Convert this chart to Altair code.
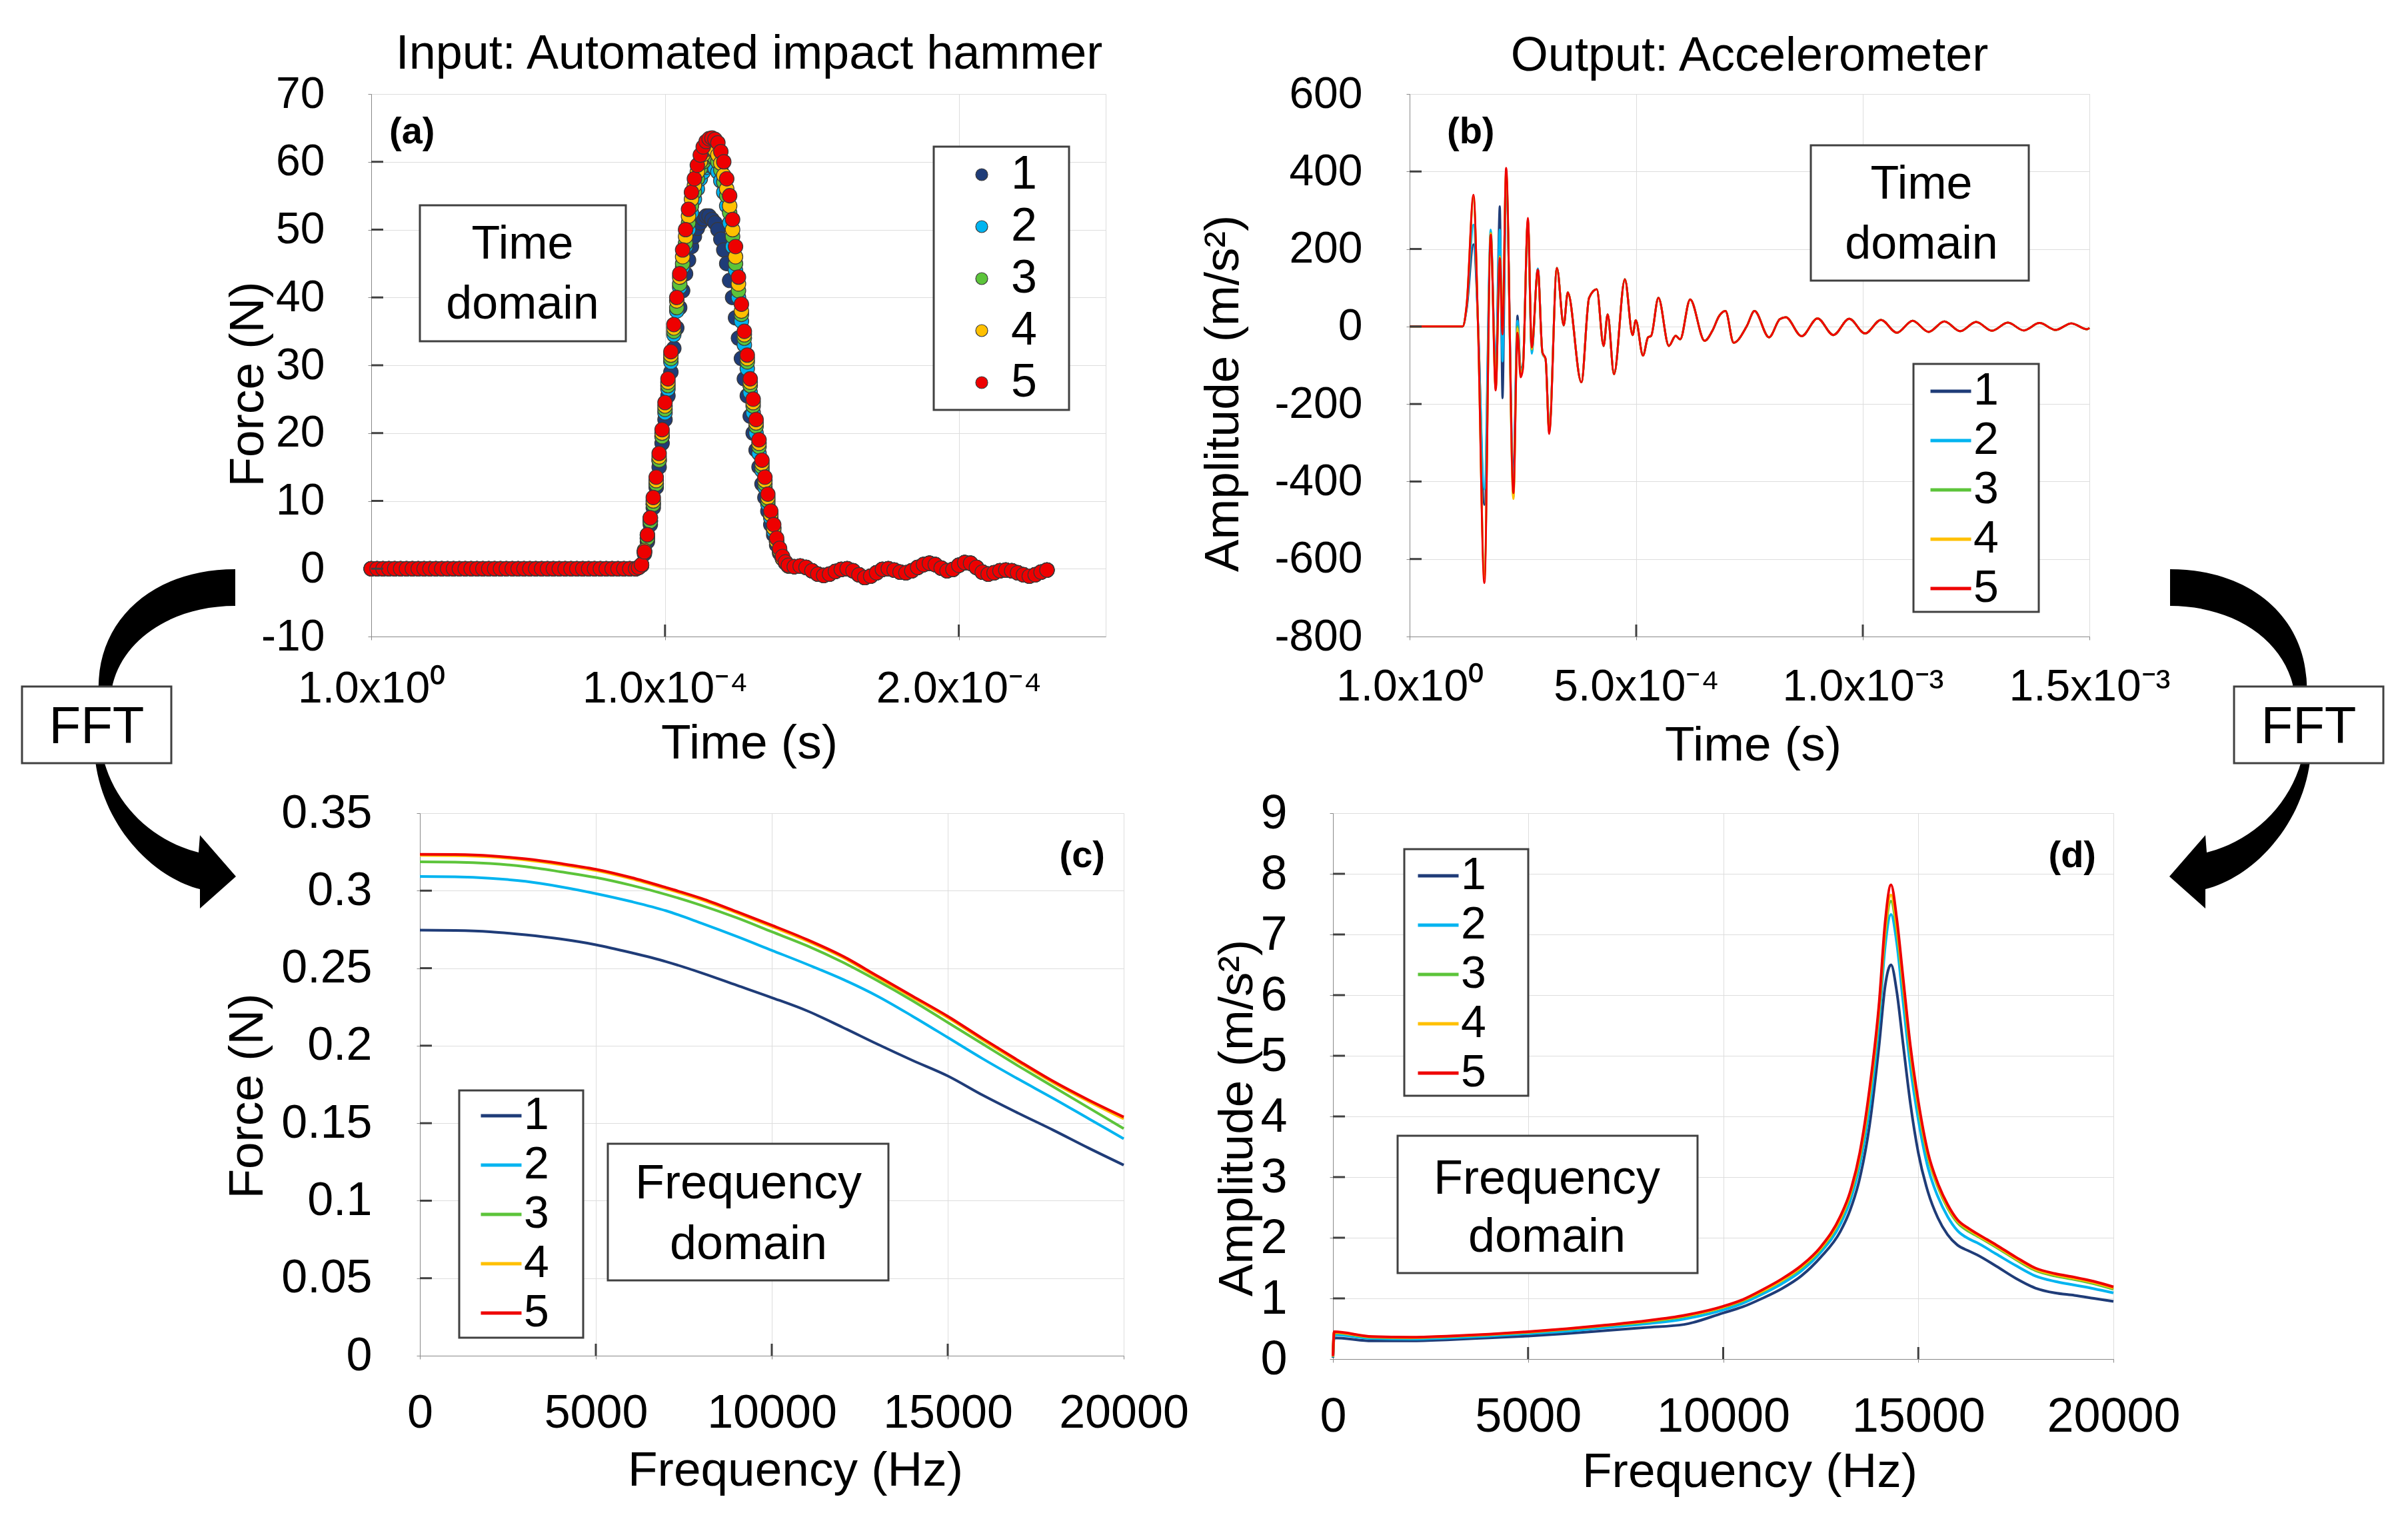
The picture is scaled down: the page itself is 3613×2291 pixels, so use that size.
import json
import altair as alt
import pandas as pd

FONT = "Liberation Sans, Arial, sans-serif"
RUNS = ["1", "2", "3", "4", "5"]
COLORS = ["#1f3c78", "#00b4f0", "#5cc43a", "#ffc000", "#ee0000"]
FRAME = "#404040"

# ---------------- (a) impact hammer force, time domain ----------------
A_T_US = list(range(0, 90, 2)) + list(range(90, 143)) + list(range(144, 232, 2))  # µs
A_HEAD = [0, 0, 0, 0, 0, 0, 0, 0, 0, 0, 0, 0, 0, 0, 0, 0, 0, 0, 0, 0, 0, 0, 0,
          0, 0, 0, 0, 0, 0, 0, 0, 0, 0, 0, 0, 0, 0, 0, 0, 0, 0, 0, 0, 0, 0]
A_PULSE = {
    "1": [0, 0.2, 0.5, 2.2, 4, 6.5, 9, 12, 15, 18.5, 22,
          25.5, 29, 32.5, 35.5, 38.5, 41, 43.5, 45.5, 47.5,
          49, 50.2, 51, 51.6, 52, 52, 51.5, 51, 50, 48.6,
          47, 45, 42.5, 40, 37, 34, 31, 28, 25.5, 22.5,
          20, 17.5, 15, 12.5, 10.5, 8.5, 6.5, 5, 3.5, 2.3,
          1.5, 0.9, 0.5],
    "2": [0, 0.2, 0.5, 2.5, 4.5, 7, 9.5, 12.5, 16, 19.5, 23,
          26.5, 30.5, 34.5, 38, 41.5, 44.5, 47.5, 50, 52.5,
          54.5, 56, 57.5, 58.5, 59.2, 59.5, 59.4, 59.1, 58.5, 57.2,
          55.5, 53.5, 51, 47.5, 44, 40, 36.5, 33, 29.5, 26,
          23, 20, 17, 14.5, 12, 9.5, 7.5, 5.5, 4, 2.6,
          1.5, 0.9, 0.4],
    "3": [0, 0.2, 0.5, 2.5, 4.5, 7, 9.5, 12.5, 16, 19.5, 23.5,
          27, 31, 35, 38.5, 42, 45, 48, 51, 53.5,
          55.5, 57.5, 59, 60, 60.7, 61, 60.9, 60.6, 60, 58.8,
          57, 55, 52.5, 49, 45, 41, 37.5, 34, 30.5, 27,
          24, 21, 18, 15, 12.5, 10, 8, 6, 4, 2.6,
          1.5, 0.9, 0.4],
    "4": [0, 0.2, 0.6, 2.7, 5, 7.5, 10, 13, 16.5, 20, 24,
          27.5, 31.5, 35.5, 39.5, 43, 46, 49, 52, 54.5,
          56.5, 58.5, 60, 61.1, 61.8, 62, 62, 61.7, 61, 59.8,
          58, 56, 53.5, 50, 46, 42, 38, 34.5, 31, 27.5,
          24.5, 21.5, 18.5, 15.5, 13, 10.5, 8, 6, 4, 2.7,
          1.5, 0.9, 0.4],
    "5": [0, 0.2, 0.6, 2.5, 5, 7.5, 10.5, 13.5, 17, 20.5, 24.5,
          28, 32, 36, 40, 43.5, 47, 50, 53, 55.5,
          57.5, 59.5, 61, 62.2, 63, 63.4, 63.5, 63.3, 62.8, 61.5,
          60, 57.5, 55, 51.5, 47.5, 43, 39, 35, 31.5, 28,
          25, 22, 19, 16, 13.5, 11, 8.5, 6.5, 4.5, 3,
          1.8, 1, 0.5],
}
A_TAIL = [0.3, 0.4, 0.2, -0.3, -0.8, -1.0, -0.8, -0.4, -0.1, 0.0, -0.3, -0.9, -1.3, -1.1, -0.6,
          -0.1, 0.0, -0.2, -0.5, -0.6, -0.3, 0.2, 0.6, 0.8, 0.6, 0.1, -0.3, -0.1, 0.5, 0.9, 0.8,
          0.2, -0.5, -0.8, -0.6, -0.3, -0.2, -0.3, -0.6, -0.9, -1.1, -0.9, -0.5, -0.2]
A_XTICKS = [0, 100, 200]
A_XLABELS = ["1.0x10\u2070", "1.0x10\u207b\u2074", "2.0x10\u207b\u2074"]
A_YTICKS = [-10, 0, 10, 20, 30, 40, 50, 60, 70]

# ---------------- (b) accelerometer, time domain ----------------
B_T_EARLY = [0, 117, 126, 141, 151, 165, 179, 190, 199, 205, 213, 229, 238, 245, 250, 261,
             269.5, 283, 293, 300, 308]
B_EARLY = {
    "1": [0, 0, 45, 212, 10, -460, 225, -120, 310, -185, 370, -380, 28, -110, -98, 268, -62, 148,
          -68, -84, -265],
    "2": [0, 0, 50, 263, 5, -420, 250, -130, 250, -90, 380, -400, 15, -118, -100, 270, -70, 150,
          -70, -86, -268],
    "3": [0, 0, 55, 330, 0, -640, 242, -158, 182, 5, 395, -440, 0, -122, -102, 272, -60, 146,
          -66, -84, -270],
    "4": [0, 0, 57, 335, 0, -650, 240, -160, 180, -10, 400, -445, -5, -125, -105, 275, -58, 145,
          -68, -85, -272],
    "5": [0, 0, 57, 340, 0, -662, 237, -165, 177, -20, 409, -430, -16, -131, -110, 280, -54, 147,
          -66, -83, -277],
}
B_T_LATE = [325, 340, 349, 379, 396, 413, 428, 437, 451, 475, 492, 499, 515, 526, 533, 549, 572,
            587, 597, 619, 651, 668, 683, 697, 715, 744, 761, 793, 817, 830, 865, 900, 935, 970,
            1005, 1040, 1075, 1110, 1145, 1180, 1215, 1250, 1285, 1320, 1355, 1390, 1425, 1460,
            1495, 1500]
B_LATE = [151, 3, 88, -144, 74, 96, -50, 31, -123, 122, -22, 16, -75, -28, -24, 74, -50, -24,
          -33, 70, -37, -11, 27, 40, -42, 1, 40, -28, 19, 24, -25, 21, -22, 20, -18, 17, -16, 15,
          -14, 13, -12, 12, -11, 10, -10, 9, -9, 8, -7, -4]
B_XTICKS = [0, 500, 1000, 1500]
B_XLABELS = ["1.0x10\u2070", "5.0x10\u207b\u2074", "1.0x10\u207b\u00b3", "1.5x10\u207b\u00b3"]
B_YTICKS = [-800, -600, -400, -200, 0, 200, 400, 600]

# ---------------- (c) force spectrum ----------------
C_F = [0, 1000, 2000, 3000, 4000, 5000, 6000, 7000, 8000, 9000, 10000, 11000, 12000, 13000,
       14000, 15000, 16000, 17000, 18000, 19000, 20000]
C_VAL = {
    "1": [.2745, .2743, .2735, .2715, .2688, .2651, .2600, .2542, .2470, .2390, .2310, .2225,
          .2120, .2010, .1905, .1805, .1680, .1565, .1455, .1340, .1230],
    "2": [.3091, .3089, .3080, .3060, .3025, .2981, .2930, .2870, .2790, .2705, .2615, .2525,
          .2430, .2320, .2190, .2053, .1915, .1785, .1660, .1530, .1400],
    "3": [.3186, .3184, .3175, .3155, .3122, .3085, .3035, .2975, .2905, .2825, .2735, .2645,
          .2540, .2420, .2290, .2150, .2010, .1870, .1735, .1600, .1465],
    "4": [.3228, .3226, .3218, .3198, .3168, .3130, .3077, .3012, .2942, .2857, .2768, .2676,
          .2571, .2441, .2311, .2181, .2036, .1896, .1761, .1641, .1528],
    "5": [.3235, .3233, .3225, .3205, .3175, .3138, .3085, .3020, .2950, .2865, .2777, .2685,
          .2580, .2450, .2320, .2190, .2045, .1905, .1770, .1650, .1540],
}
F_TICKS = [0, 5000, 10000, 15000, 20000]
C_YTICKS = [0, 0.05, 0.1, 0.15, 0.2, 0.25, 0.3, 0.35]

# ---------------- (d) acceleration spectrum ----------------
D_F = [0, 30, 1000, 2000, 3000, 4000, 5000, 6000, 7000, 8000, 9000, 10000, 10500, 11000, 11500,
       12000, 12500, 13000, 13250, 13500, 13750, 14000, 14150, 14300, 14450, 14600, 14800, 15000,
       15250, 15500, 15750, 16000, 16300, 16500, 17000, 17500, 18000, 18500, 19000, 19500, 20000]
D_VAL = {
    "1": [0.02, 0.35, 0.30, 0.30, 0.32, 0.35, 0.38, 0.42, 0.47, 0.52, 0.57, 0.76, 0.86, 1.00,
          1.16, 1.37, 1.68, 2.10, 2.45, 2.98, 3.85, 5.20, 6.15, 6.50, 6.05, 5.25, 4.20, 3.40,
          2.75, 2.33, 2.05, 1.88, 1.78, 1.72, 1.53, 1.33, 1.17, 1.09, 1.05, 1.00, 0.95],
    "2": [0.03, 0.40, 0.34, 0.33, 0.35, 0.38, 0.42, 0.46, 0.52, 0.58, 0.66, 0.81, 0.92, 1.07,
          1.24, 1.45, 1.76, 2.22, 2.60, 3.20, 4.15, 5.60, 6.80, 7.33, 6.85, 5.95, 4.80, 3.95,
          3.15, 2.68, 2.35, 2.12, 1.98, 1.92, 1.73, 1.54, 1.37, 1.28, 1.22, 1.16, 1.09],
    "3": [0.04, 0.43, 0.36, 0.35, 0.37, 0.40, 0.44, 0.49, 0.55, 0.61, 0.70, 0.85, 0.96, 1.11,
          1.29, 1.50, 1.81, 2.30, 2.69, 3.32, 4.33, 5.78, 7.00, 7.55, 7.05, 6.20, 5.02, 4.14,
          3.32, 2.84, 2.49, 2.25, 2.10, 2.03, 1.84, 1.64, 1.46, 1.37, 1.31, 1.24, 1.15],
    "4": [0.04, 0.44, 0.365, 0.355, 0.375, 0.405, 0.445, 0.495, 0.555, 0.62, 0.71, 0.86, 0.97,
          1.12, 1.30, 1.52, 1.83, 2.32, 2.72, 3.36, 4.38, 5.83, 7.08, 7.65, 7.14, 6.27, 5.08,
          4.19, 3.36, 2.87, 2.52, 2.28, 2.13, 2.05, 1.86, 1.66, 1.48, 1.39, 1.33, 1.26, 1.17],
    "5": [0.05, 0.45, 0.37, 0.36, 0.38, 0.41, 0.45, 0.50, 0.56, 0.63, 0.72, 0.87, 0.98, 1.14,
          1.32, 1.54, 1.85, 2.35, 2.75, 3.40, 4.45, 5.90, 7.20, 7.82, 7.25, 6.35, 5.15, 4.25,
          3.40, 2.90, 2.55, 2.30, 2.15, 2.07, 1.88, 1.68, 1.50, 1.41, 1.35, 1.28, 1.19],
}
D_YTICKS = [0, 1, 2, 3, 4, 5, 6, 7, 8, 9]


# ---------------- tables ----------------
def long_table(xs_by_run, vals_by_run, xname):
    rows = []
    for r in RUNS:
        for x, v in zip(xs_by_run[r], vals_by_run[r]):
            rows.append({xname: x, "v": v, "run": r})
    return pd.DataFrame(rows)


df_a = long_table({r: A_T_US for r in RUNS}, {r: A_HEAD + A_PULSE[r] + A_TAIL for r in RUNS}, "t")
df_b = long_table({r: B_T_EARLY + B_T_LATE for r in RUNS}, {r: B_EARLY[r] + B_LATE for r in RUNS}, "t")
df_c = long_table({r: C_F for r in RUNS}, C_VAL, "f")
df_d = long_table({r: D_F for r in RUNS}, D_VAL, "f")

one = pd.DataFrame({"k": [0]})
color_scale = alt.Scale(domain=RUNS, range=COLORS)
MINUS_FIX = "replace(datum.label, '\u2212', '-')"


# ---------------- decoration helpers (pixel positions relative to a panel) ----------------
def box(x1, x2, y1, y2):
    return alt.Chart(one).mark_rect(fill="white", stroke=FRAME, strokeWidth=3).encode(
        x=alt.value(x1), x2=alt.value(x2), y=alt.value(y1), y2=alt.value(y2))


def label(text, x, y, size, align="center", weight="normal"):
    return alt.Chart(one).mark_text(text=text, font=FONT, fontSize=size, fontWeight=weight,
                                    align=align, baseline="alphabetic", color="black").encode(
        x=alt.value(x), y=alt.value(y))


def inner_ticks(xenc, yenc, xfield, xticks, xdom, yticks, ydom, height, ln=18):
    """Short inward tick marks on the bottom and left frame edges (same scales/axes as data)."""
    xs = [v for v in xticks if xdom[0] < v < xdom[1]]
    ys = [v for v in yticks if ydom[0] < v < ydom[1]]
    xt = alt.Chart(pd.DataFrame({xfield: xs})).mark_rule(color=FRAME, strokeWidth=3).encode(
        x=xenc, y=alt.value(height - ln), y2=alt.value(height))
    yt = alt.Chart(pd.DataFrame({"v": ys})).mark_rule(color=FRAME, strokeWidth=3).encode(
        y=yenc, x=alt.value(0), x2=alt.value(ln))
    return [xt, yt]


# curved FFT arrow outline, absolute figure pixels (left arrow)
ARROW = [("M", [(352, 857)]),
         ("C", [(230, 857), (150, 930), (147, 1028)]),
         ("L", [(142, 1145)]),
         ("C", [(155, 1245), (230, 1320), (299, 1337)]),
         ("L", [(299, 1366)]), ("L", [(353, 1318)]), ("L", [(299, 1256)]), ("L", [(297, 1282)]),
         ("C", [(230, 1265), (175, 1215), (155, 1145)]),
         ("L", [(168, 1030)]),
         ("C", [(185, 960), (260, 912), (352, 912)])]
MIRROR = 3607


def arrow_path(ox, oy, mirror=False):
    parts = []
    for cmd, pts in ARROW:
        coords = []
        for (x, y) in pts:
            xx = (MIRROR - x) if mirror else x
            coords.append(f"{xx - ox},{y - oy}")
        parts.append(cmd + " ".join(coords))
    return " ".join(parts) + " Z"


def arrow(ox, oy, mirror=False):
    return alt.Chart(one).mark_point(shape=arrow_path(ox, oy, mirror), size=4, filled=True,
                                     fill="black", opacity=1, strokeWidth=0).encode(
        x=alt.value(0), y=alt.value(0))


def labexpr(ticks, labels):
    return f"{json.dumps(labels, ensure_ascii=False)}[indexof({json.dumps(ticks)}, datum.value)]"


def xaxis(values, size, pad, title, tx, ty, expr=None, fmt=None):
    kw = dict(values=values, labelFontSize=size, labelPadding=pad, labelLimit=0,
              labelOverlap=False, labelBound=False, labelFlush=False, title=title,
              titleFontSize=73, titleFontWeight="normal", titleX=tx, titleY=ty,
              titleBaseline="alphabetic")
    if expr:
        kw["labelExpr"] = expr
    if fmt:
        kw["format"] = fmt
    return alt.Axis(**kw)


def yaxis(values, size, pad, title, tx, ty, fmt=None):
    kw = dict(values=values, labelFontSize=size, labelPadding=pad, labelLimit=0,
              labelOverlap=False, labelBound=False, labelFlush=False, title=title,
              titleFontSize=73, titleFontWeight="normal", titleX=tx, titleY=ty,
              titleBaseline="middle", labelExpr=MINUS_FIX)
    if fmt:
        kw["format"] = fmt
    return alt.Axis(**kw)


def line_legend(lx, ly):
    return alt.Legend(orient="none", legendX=lx, legendY=ly, title=None, labelFontSize=68,
                      labelFont=FONT, labelColor="black", symbolType="stroke", symbolSize=3721,
                      symbolStrokeWidth=5, labelOffset=0, rowPadding=6, padding=0)


# ---------------- panel (a) ----------------
AX, AY = 556, 144
xa = alt.X("t:Q", scale=alt.Scale(domain=[0, 250], nice=False, zero=False),
           axis=xaxis(A_XTICKS, 66, 41, "Time (s)", 567, 182, expr=labexpr(A_XTICKS, A_XLABELS)))
ya = alt.Y("v:Q", scale=alt.Scale(domain=[-10, 70], nice=False, zero=False),
           axis=yaxis(A_YTICKS, 66, 65, "Force (N)", -185, 435))
pts_a = alt.Chart(df_a).mark_point(filled=True, size=480, opacity=1, stroke="#3a3a3a",
                                   strokeWidth=1.2).encode(
    x=xa, y=ya,
    color=alt.Color("run:N", scale=color_scale,
                    legend=alt.Legend(orient="none", legendX=881, legendY=86, title=None,
                                      labelFontSize=70, labelFont=FONT, labelColor="black",
                                      symbolType="circle", symbolSize=324, labelOffset=9,
                                      rowPadding=8, padding=0, symbolStrokeColor="#3a3a3a",
                                      symbolStrokeWidth=1.2, symbolOpacity=1)),
)
panel_a = alt.layer(
    pts_a,
    *inner_ticks(xa, ya, "t", A_XTICKS, [0, 250], A_YTICKS, [-10, 70], 814),
    box(844, 1047, 79, 474),
    box(73, 382, 167, 371), label("Time", 227, 247, 70), label("domain", 227, 337, 70),
    label("(a)", 27, 74, 56, align="left", weight="bold"),
    label("Input: Automated impact hammer", 567, -38, 72),
    arrow(AX, AY),
    box(32 - AX, 256 - AX, 1033 - AY, 1148 - AY), label("FFT", 144 - AX, 1118 - AY, 78),
).properties(width=1102, height=814)

# ---------------- panel (b) ----------------
BX, BY = 2114, 144
xb = alt.X("t:Q", scale=alt.Scale(domain=[0, 1500], nice=False, zero=False),
           axis=xaxis(B_XTICKS, 66, 38, "Time (s)", 515, 185, expr=labexpr(B_XTICKS, B_XLABELS)))
yb = alt.Y("v:Q", scale=alt.Scale(domain=[-800, 600], nice=False, zero=False),
           axis=yaxis(B_YTICKS, 66, 66, "Amplitude (m/s\u00b2)", -280, 449))
line_b = alt.Chart(df_b).mark_line(strokeWidth=3, interpolate="monotone").encode(
    x=xb, y=yb, color=alt.Color("run:N", scale=color_scale, legend=line_legend(778, 412)))
panel_b = alt.layer(
    line_b,
    *inner_ticks(xb, yb, "t", B_XTICKS, [0, 1500], B_YTICKS, [-800, 600], 814),
    box(756, 944, 405, 777),
    box(602, 929, 77, 280), label("Time", 768, 157, 70), label("domain", 768, 247, 70),
    label("(b)", 56, 74, 56, align="left", weight="bold"),
    label("Output: Accelerometer", 510, -35, 72),
    arrow(BX, BY, mirror=True),
    box(MIRROR - 256 - BX, MIRROR - 32 - BX, 1033 - BY, 1148 - BY),
    label("FFT", MIRROR - 144 - BX, 1118 - BY, 78),
).properties(width=1020, height=814)

# ---------------- panel (c) ----------------
xc = alt.X("f:Q", scale=alt.Scale(domain=[0, 20000], nice=False, zero=False),
           axis=xaxis(F_TICKS, 70, 47, "Frequency (Hz)", 563, 194, fmt="d"))
yc = alt.Y("v:Q", scale=alt.Scale(domain=[0, 0.35], nice=False, zero=False),
           axis=yaxis(C_YTICKS, 70, 67, "Force (N)", -259, 424, fmt=".2~f"))
line_c = alt.Chart(df_c).mark_line(strokeWidth=4, interpolate="monotone").encode(
    x=xc, y=yc, color=alt.Color("run:N", scale=color_scale, legend=line_legend(88, 420)))
panel_c = alt.layer(
    line_c,
    *inner_ticks(xc, yc, "f", F_TICKS, [0, 20000], C_YTICKS, [0, 0.35], 814),
    box(59, 245, 416, 787),
    box(282, 703, 496, 701), label("Frequency", 493, 578, 72), label("domain", 493, 669, 72),
    label("(c)", 1028, 81, 56, align="right", weight="bold"),
).properties(width=1056, height=814)

# ---------------- panel (d) ----------------
xd = alt.X("f:Q", scale=alt.Scale(domain=[0, 20000], nice=False, zero=False),
           axis=xaxis(F_TICKS, 72, 46, "Frequency (Hz)", 625, 191, fmt="d"))
yd = alt.Y("v:Q", scale=alt.Scale(domain=[0, 9], nice=False, zero=False),
           axis=yaxis(D_YTICKS, 72, 64, "Amplitude (m/s\u00b2)", -144, 457))
line_d = alt.Chart(df_d).mark_line(strokeWidth=4, interpolate="monotone").encode(
    x=xd, y=yd, color=alt.Color("run:N", scale=color_scale, legend=line_legend(124, 60)))
panel_d = alt.layer(
    line_d,
    *inner_ticks(xd, yd, "f", F_TICKS, [0, 20000], D_YTICKS, [0, 9], 819),
    box(107, 293, 54, 424),
    box(97, 547, 484, 690), label("Frequency", 321, 571, 72), label("domain", 321, 658, 72),
    label("(d)", 1145, 81, 56, align="right", weight="bold"),
).properties(width=1171, height=819)


# ---------------- spacers ----------------
def spacer(w):
    return alt.Chart(one).mark_point(opacity=0).encode(
        x=alt.value(0), y=alt.value(0)).properties(
        width=w, height=1, view=alt.ViewBackground(stroke="transparent"))


row1 = alt.hconcat(spacer(10), panel_a, panel_b, spacing=456, bounds="flush").resolve_scale(
    color="independent").resolve_legend(color="independent")
row2 = alt.hconcat(spacer(225), panel_c, panel_d, spacing=314, bounds="flush").resolve_scale(
    color="independent").resolve_legend(color="independent")

chart = alt.vconcat(row1, row2, spacing=1079, bounds="flush").resolve_scale(
    color="independent").resolve_legend(color="independent").properties(
    padding={"left": 23, "top": 36, "right": 10, "bottom": 10},
).configure_view(stroke="#595959", strokeWidth=3).configure_axis(
    labelFont=FONT, titleFont=FONT, labelColor="black", titleColor="black",
    titleFontWeight="normal", gridColor="#d9d9d9", gridWidth=3, domain=False, ticks=False,
).configure(background="white")

chart.save("out.html", embed_options={"renderer": "svg", "actions": False})
